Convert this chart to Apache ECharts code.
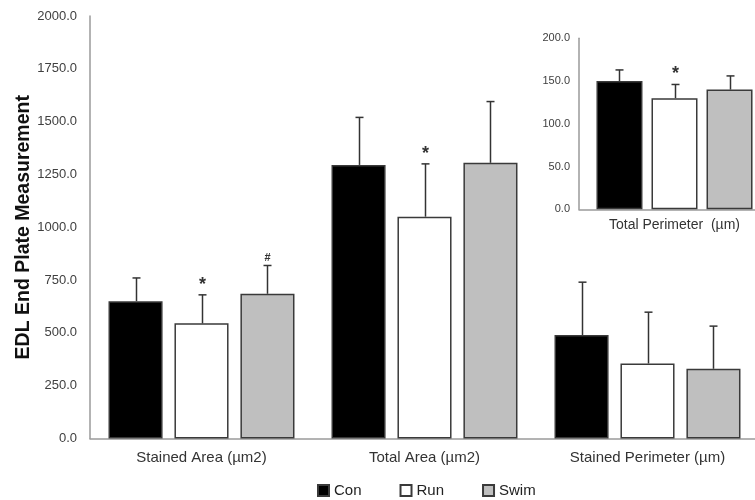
<!DOCTYPE html>
<html>
<head>
<meta charset="utf-8">
<style>
  html, body { margin: 0; padding: 0; background: #fff; }
  #chart { width: 755px; height: 500px; }
</style>
<script src="https://cdn.jsdelivr.net/npm/echarts@6/dist/echarts.min.js"></script>
</head>
<body>
<div id="chart"></div>
<script>
// main panel
const catNames = ['Stained Area (µm2)', 'Total Area (µm2)', 'Stained Perimeter (µm)'];
const conMean = [650, 1295, 490];
const conSD = [110, 225, 250];
const runMean = [545, 1050, 355];
const runSD = [135, 250, 243];
const swimMean = [685, 1305, 330];
const swimSD = [134, 290, 202];
const runSig = ['*', '*', ''];
const swimSig = ['#', '', ''];

// inset panel
const perimCats = ['Total Perimeter  (µm)'];
const perimConMean = [150];
const perimConSD = [13];
const perimRunMean = [130];
const perimRunSD = [16];
const perimSwimMean = [140];
const perimSwimSD = [16];
const perimRunSig = ['*'];

const FONT = 'Arial, "Liberation Sans", sans-serif';
const fills = { Con: '#000000', Run: '#ffffff', Swim: '#bfbfbf' };
const MAIN_CAT_GAP = 0.166, MAIN_BAR_GAP = 0.22;
const INSET_CAT_GAP = 0.183, INSET_BAR_GAP = 0.196;

let myChart = echarts.init(document.getElementById('chart'));

function barSeries(name, data, axis, catGap, barGap) {
  return {
    name: name,
    type: 'bar',
    xAxisIndex: axis,
    yAxisIndex: axis,
    data: data,
    barCategoryGap: (catGap * 100) + '%',
    barGap: (barGap * 100) + '%',
    itemStyle: { color: fills[name], borderColor: '#3a3a3a', borderWidth: 1.5 },
    emphasis: { disabled: true },
  };
}

// error bar (upper only) + significance mark, placed at the slot of bar `slot`
function errSeries(name, means, sds, sigs, slot, axis, catGap, barGap) {
  return {
    name: name + '-err',
    type: 'custom',
    xAxisIndex: axis,
    yAxisIndex: axis,
    z: 5,
    data: means.map((m, i) => [i, m, m + sds[i]]),
    encode: { x: 0, y: [1, 2] },
    renderItem(params, api) {
      const band = api.size([1, 0])[0];
      const avail = band * (1 - catGap);
      const w = avail / (3 + 2 * barGap);
      const off = -avail / 2 + slot * w * (1 + barGap) + w / 2;
      const base = api.coord([api.value(0), api.value(1)]);
      const top = api.coord([api.value(0), api.value(2)]);
      const x = Math.round(base[0] + off) + 0.5;
      const sig = sigs[api.value(0)] || '';
      const children = [
        { type: 'line', shape: { x1: x, y1: base[1], x2: x, y2: top[1] }, style: { stroke: '#333', lineWidth: 1.5 } },
        { type: 'line', shape: { x1: x - 4, y1: top[1], x2: x + 4, y2: top[1] }, style: { stroke: '#333', lineWidth: 1.5 } },
      ];
      if (sig) {
        children.push({
          type: 'text',
          style: {
            text: sig, x: x, y: top[1] + (sig === '*' ? -1 : -2),
            align: 'center', verticalAlign: 'bottom',
            font: (sig === '*' ? 'bold 18px ' : 'bold 11px ') + FONT, fill: '#333',
          },
        });
      }
      return { type: 'group', children: children };
    },
  };
}

const tickFmt = (v) => v.toFixed(1);

let option = {
  animation: false,
  textStyle: { fontFamily: FONT },
  legend: {
    data: ['Con', 'Run', 'Swim'],
    left: 317,
    top: 483,
    padding: 0,
    icon: 'rect',
    itemWidth: 11,
    itemHeight: 11,
    itemGap: 38,
    textStyle: { fontSize: 15, color: '#222', fontFamily: FONT },
  },
  grid: [
    { left: 90, top: 16, width: 669, height: 422.5, outerBoundsMode: 'none', containLabel: false },
    { left: 579, top: 38.3, width: 191, height: 171, outerBoundsMode: 'none', containLabel: false },
  ],
  xAxis: [
    {
      gridIndex: 0,
      type: 'category',
      data: catNames,
      axisLine: { lineStyle: { color: '#9a9a9a', width: 1.5 } },
      axisTick: { show: false },
      axisLabel: { fontSize: 15, color: '#333', margin: 12, fontFamily: FONT },
    },
    {
      gridIndex: 1,
      type: 'category',
      data: perimCats,
      axisLine: { lineStyle: { color: '#9a9a9a', width: 1.5 } },
      axisTick: { show: false },
      axisLabel: { fontSize: 14, color: '#333', margin: 9, fontFamily: FONT },
    },
  ],
  yAxis: [
    {
      gridIndex: 0,
      type: 'value',
      min: 0,
      max: 2000,
      interval: 250,
      name: 'EDL End Plate Measurement',
      nameLocation: 'middle',
      nameGap: 56,
      nameMoveOverlap: false,
      nameTextStyle: { fontSize: 19.5, fontWeight: 'bold', color: '#111', fontFamily: FONT },
      axisLine: { show: true, lineStyle: { color: '#9a9a9a', width: 1.5 } },
      axisTick: { show: false },
      splitLine: { show: false },
      axisLabel: { fontSize: 13, color: '#404040', margin: 13, formatter: tickFmt, fontFamily: FONT },
    },
    {
      gridIndex: 1,
      type: 'value',
      min: 0,
      max: 200,
      interval: 50,
      axisLine: { show: true, lineStyle: { color: '#9a9a9a', width: 1.5 } },
      axisTick: { show: false },
      splitLine: { show: false },
      axisLabel: { fontSize: 11, color: '#404040', margin: 9, formatter: tickFmt, fontFamily: FONT },
    },
  ],
  series: [
    barSeries('Con', conMean, 0, MAIN_CAT_GAP, MAIN_BAR_GAP),
    barSeries('Run', runMean, 0, MAIN_CAT_GAP, MAIN_BAR_GAP),
    barSeries('Swim', swimMean, 0, MAIN_CAT_GAP, MAIN_BAR_GAP),
    errSeries('Con', conMean, conSD, [], 0, 0, MAIN_CAT_GAP, MAIN_BAR_GAP),
    errSeries('Run', runMean, runSD, runSig, 1, 0, MAIN_CAT_GAP, MAIN_BAR_GAP),
    errSeries('Swim', swimMean, swimSD, swimSig, 2, 0, MAIN_CAT_GAP, MAIN_BAR_GAP),
    barSeries('Con', perimConMean, 1, INSET_CAT_GAP, INSET_BAR_GAP),
    barSeries('Run', perimRunMean, 1, INSET_CAT_GAP, INSET_BAR_GAP),
    barSeries('Swim', perimSwimMean, 1, INSET_CAT_GAP, INSET_BAR_GAP),
    errSeries('pCon', perimConMean, perimConSD, [], 0, 1, INSET_CAT_GAP, INSET_BAR_GAP),
    errSeries('pRun', perimRunMean, perimRunSD, perimRunSig, 1, 1, INSET_CAT_GAP, INSET_BAR_GAP),
    errSeries('pSwim', perimSwimMean, perimSwimSD, [], 2, 1, INSET_CAT_GAP, INSET_BAR_GAP),
  ],
};
myChart.setOption(option);
</script>
</body>
</html>
